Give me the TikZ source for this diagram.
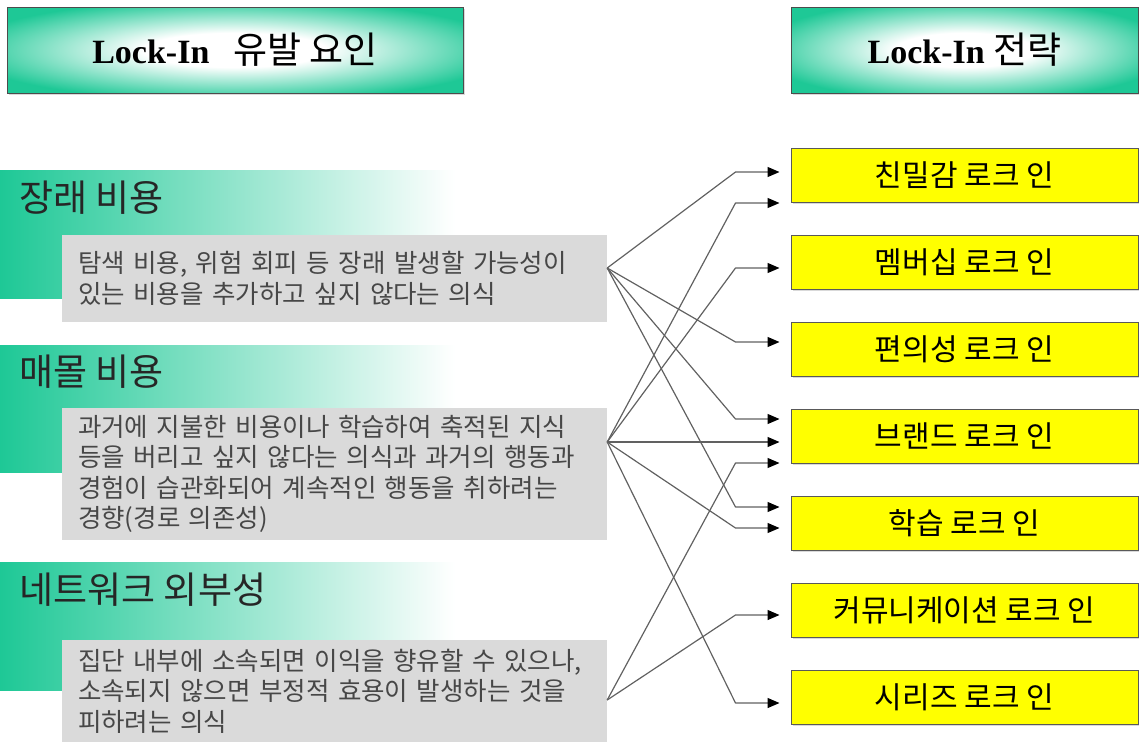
\documentclass[tikz,border=0pt]{standalone}
\usepackage{fontspec}
\setmainfont{Liberation Serif}
\newfontfamily\kr{Noto Sans CJK KR}
\usepackage{tikz}
\usetikzlibrary{arrows.meta}
\usetikzlibrary{shadows}

\definecolor{lockteal}{RGB}{30,200,150}
\definecolor{lockgray}{RGB}{218,218,218}
\definecolor{lockyellow}{RGB}{255,255,0}
\pgfdeclareradialshading{headglow}{\pgfpoint{0bp}{0bp}}{color(0bp)=(white); color(10bp)=(white);
    color(30bp)=(lockteal); color(50bp)=(lockteal)}

\begin{document}
\begin{tikzpicture}[x=1pt, y=-1pt,
    header/.style={draw=black!70, line width=0.8pt, shading=headglow,
        minimum height=86pt, font=\fontsize{34}{40}\selectfont,
        drop shadow={shadow xshift=2pt, shadow yshift=-2pt, opacity=0.3}},
    strategy/.style={draw=black!65, line width=1pt, fill=lockyellow, minimum width=347pt,
        minimum height=54pt, font=\kr\fontsize{30}{32}\selectfont,
        drop shadow={shadow xshift=1.5pt, shadow yshift=-1.5pt, opacity=0.3}},
    factor/.style={anchor=west, font=\kr\fontsize{37}{40}\selectfont, text=black!85},
    detail/.style={fill=lockgray, text=black!72, text width=513pt, inner xsep=16pt,
        align=left, font=\kr\fontsize{25.5}{30.5}\selectfont},
    link/.style={draw=black!62, line width=1.2pt, line join=round,
        -{Triangle[length=12pt, width=10pt, color=black]}}]
    \useasboundingbox (0,0) rectangle (1139,742); % page size

    \node[header, minimum width=456pt] (causeHead) at (235,50) {\bfseries Lock-In\hspace{0.7em}{\kr\mdseries\fontsize{37}{40}\selectfont 유발 요인}};
    \node[header, minimum width=347pt] (planHead) at (964.5,50) {\bfseries Lock-In {\kr\mdseries\fontsize{37}{40}\selectfont 전략}};

    \shade[left color=lockteal, right color=white] (0,170) rectangle (455,298);
    \shade[left color=lockteal, right color=white] (0,345) rectangle (455,472);
    \shade[left color=lockteal, right color=white] (0,562) rectangle (455,690);

    \node[factor] (costA) at (16,198) {장래 비용};
    \node[factor] (costB) at (16,372) {매몰 비용};
    \node[factor] (costC) at (16,590) {네트워크 외부성};

    \node[detail, minimum height=87pt] (descA) at (334.5,278.5)
        {탐색 비용, 위험 회피 등 장래 발생할 가능성이\\있는 비용을 추가하고 싶지 않다는 의식};
    \node[detail, minimum height=132pt] (descB) at (334.5,474)
        {과거에 지불한 비용이나 학습하여 축적된 지식\\등을 버리고 싶지 않다는 의식과 과거의 행동과\\경험이 습관화되어 계속적인 행동을 취하려는\\경향(경로 의존성)};
    \node[detail, minimum height=102pt] (descC) at (334.5,691)
        {집단 내부에 소속되면 이익을 향유할 수 있으나,\\소속되지 않으면 부정적 효용이 발생하는 것을\\피하려는 의식};

    \coordinate (srcA) at (descA.east |- 0,268);
    \coordinate (srcB) at (descB.east |- 0,442);
    \coordinate (srcC) at (descC.east |- 0,700);

    \foreach \name [count=\i] in {친밀감,멤버십,편의성,브랜드,학습,커뮤니케이션,시리즈}
        \node[strategy] (lock\i) at (964.5,88+87*\i) {\name{} 로크 인};

    \foreach \s/\t/\d in {A/1/3, A/3/7, A/4/17, A/5/16, B/1/-28, B/2/-6, B/4/-6, B/5/-5, B/7/-6, C/4/-27, C/6/-5}
        \draw[link] (src\s) -- ([xshift=-55pt, yshift=\d pt]lock\t.west) -- ([xshift=-11pt, yshift=\d pt]lock\t.west);
\end{tikzpicture}
\end{document}
